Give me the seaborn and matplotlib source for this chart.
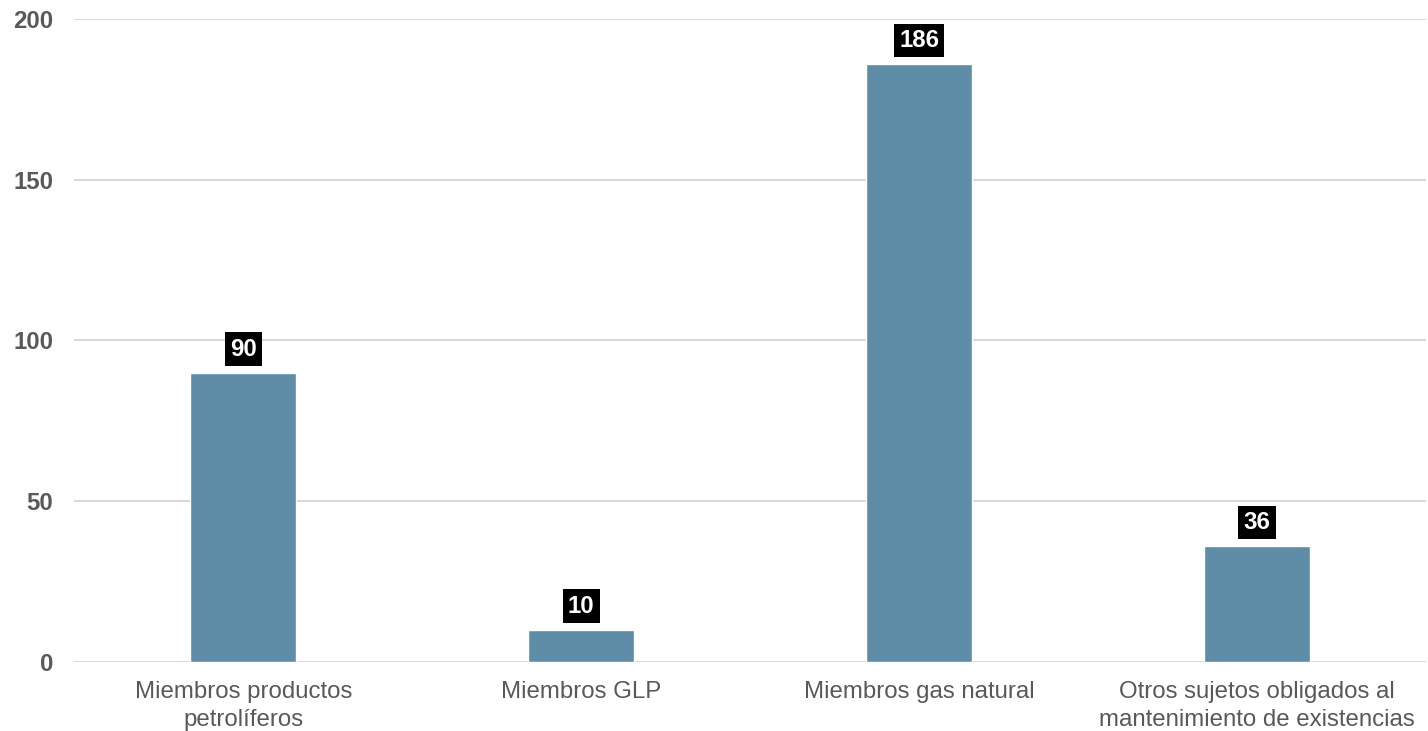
import pandas as pd
import seaborn as sns
import matplotlib.pyplot as plt

sns.set_theme(style="white")
plt.rcParams["font.family"] = ["Liberation Sans", "DejaVu Sans"]

categories = [
    "Miembros productos\npetrolíferos",
    "Miembros GLP",
    "Miembros gas natural",
    "Otros sujetos obligados al\nmantenimiento de existencias",
]
values = [90, 10, 186, 36]
yticks = [0, 50, 100, 150, 200]

df = pd.DataFrame({"categoria": categories, "valor": values})

fig = plt.figure(figsize=(14.28, 7.31), dpi=100)
ax = fig.add_axes([0.052, 0.0944, 0.9466, 0.8796])

sns.barplot(data=df, x="categoria", y="valor", color="#5F8DA8",
            saturation=1, width=0.315, ax=ax, zorder=3)

ax.set_ylim(0, 200)
ax.set_yticks(yticks)
ax.set_xlim(-0.5, 3.5)
ax.grid(axis="y", color="#D9D9D9", linewidth=1.5, zorder=0)
for s in ax.spines.values():
    s.set_visible(False)
ax.set_xlabel("")
ax.set_ylabel("")
ax.tick_params(axis="y", length=0, pad=15, labelsize=17.3, labelcolor="#595959")
ax.tick_params(axis="x", length=0, pad=14, labelsize=17.3, labelcolor="#595959")
for t in ax.get_yticklabels():
    t.set_fontweight("bold")
for t in ax.get_xticklabels():
    t.set_linespacing(1.3)

for i, v in enumerate(values):
    ax.annotate(str(v), xy=(i, v), xytext=(0, 17), textcoords="offset points",
                ha="center", va="center", color="white", fontsize=17.3,
                fontweight="bold",
                bbox=dict(boxstyle="square,pad=0.22", fc="black", ec="none"))

fig.savefig("out.png", dpi=100)
